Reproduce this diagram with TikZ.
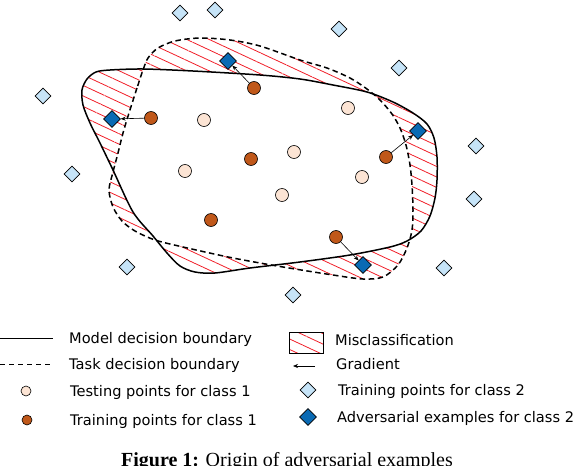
\documentclass[tikz,border=0pt]{standalone}
\usepackage{fontspec}
\setmainfont{DejaVu Sans}
\newfontfamily\capfont{Liberation Serif}
\usetikzlibrary{shapes.geometric,arrows.meta,patterns.meta}
\definecolor{colLight}{RGB}{198,228,248}
\definecolor{colDark}{RGB}{10,106,180}
\definecolor{colBrown}{RGB}{192,88,26}
\definecolor{colTest}{RGB}{252,228,212}
\definecolor{colHatch}{RGB}{240,30,40}
\begin{document}
\begin{tikzpicture}[x=1pt,y=-1pt,
  traindia/.style={diamond,draw=black,fill=colLight,line width=0.7pt,minimum size=16pt,inner sep=0pt},
  advdia/.style={diamond,draw=black,fill=colDark,line width=0.7pt,minimum size=17pt,inner sep=0pt},
  trainpt/.style={circle,draw=black,fill=colBrown,line width=0.6pt,minimum size=13pt,inner sep=0pt},
  testpt/.style={circle,draw=black,fill=colTest,line width=0.6pt,minimum size=13pt,inner sep=0pt},
  gradarrow/.style={-{Stealth[length=5pt,width=4pt]},line width=0.6pt},
  hatchfill/.style={pattern={Lines[angle=-25,distance=9.5pt,line width=0.8pt]},pattern color=colHatch},
  modelline/.style={line width=1.5pt},
  taskline/.style={line width=1.5pt,dash pattern=on 5.5pt off 3.5pt},
  legtext/.style={anchor=base west,font=\fontsize{14.6}{16}\selectfont,inner sep=0pt}]
\useasboundingbox (0,0) rectangle (576,466);
\clip (0,0) rectangle (576,466);
\def\modelpts{(96,72) (110,70) (143,69) (193,71) (260,75) (300,79) (333,85) (367,92) (393,102) (413,113) (427,124) (434,138) (437,157) (437,180) (435,198) (430,216) (421,231) (407,241) (390,247) (350,255) (300,262) (250,268) (215,273) (195,272) (180,266) (167,253) (153,236) (133,212) (113,170) (100,143) (90,123) (83,105) (82,90) (87,79)}
\def\taskpts{(143,70) (137,88) (129,113) (123,133) (118,153) (113,172) (109,190) (113,207) (122,221) (135,231) (155,240) (183,247) (233,258) (283,267) (333,275) (363,279) (383,277) (398,265) (407,248) (412,230) (413,210) (412,185) (410,165) (406,145) (400,128) (392,114) (380,100) (367,89) (350,78) (327,68) (300,60) (260,46) (230,40) (200,38) (175,41) (158,48) (148,58)}
% misclassification hatch
\path[hatchfill,even odd rule] plot[smooth cycle] coordinates {\modelpts} plot[smooth cycle] coordinates {\taskpts};
% boundaries
\draw[modelline] plot[smooth cycle] coordinates {\modelpts};
\draw[taskline] plot[smooth cycle] coordinates {\taskpts};
% training points class 2
\node[traindia] (d1) at (180,13) {};
\node[traindia] (d2) at (215,10) {};
\node[traindia] (d3) at (339,29) {};
\node[traindia] (d4) at (399,68) {};
\node[traindia] (d5) at (43,96) {};
\node[traindia] (d6) at (72,174) {};
\node[traindia] (d7) at (476,146) {};
\node[traindia] (d8) at (474,199) {};
\node[traindia] (d9) at (127,267) {};
\node[traindia] (d10) at (444,268) {};
\node[traindia] (d11) at (293,295) {};
% testing points class 1
\node[testpt] (s1) at (204,120) {};
\node[testpt] (s2) at (348,108) {};
\node[testpt] (s3) at (294,152) {};
\node[testpt] (s4) at (185,171) {};
\node[testpt] (s5) at (362,177) {};
\node[testpt] (s6) at (282,195) {};
% training points class 1
\node[trainpt] (t1) at (254,88) {};
\node[trainpt] (t2) at (151,118) {};
\node[trainpt] (t3) at (251,159) {};
\node[trainpt] (t4) at (386,157) {};
\node[trainpt] (t5) at (211,220) {};
\node[trainpt] (t6) at (336,237) {};
% adversarial examples
\node[advdia] (a1) at (228,61) {};
\node[advdia] (a2) at (112,119) {};
\node[advdia] (a3) at (418,131) {};
\node[advdia] (a4) at (363,265) {};
% gradients
\draw[gradarrow] (t1) -- (a1);
\draw[gradarrow] (t2) -- (a2);
\draw[gradarrow] (t4) -- (a3);
\draw[gradarrow] (t6) -- (a4);
% legend left
\coordinate (lm1) at (0,338);
\coordinate (lm2) at (53,338);
\draw[line width=0.8pt] (lm1) -- (lm2);
\node[legtext] (lmt) at (69,343) {Model decision boundary};
\coordinate (lt1) at (0,364);
\coordinate (lt2) at (53,364);
\draw[line width=0.8pt,dash pattern=on 5pt off 4pt] (lt1) -- (lt2);
\node[legtext] (ltt) at (69,369) {Task decision boundary};
\node[testpt,minimum size=10pt] (lsp) at (26,391) {};
\node[legtext] (lst) at (70,396) {Testing points for class 1};
\node[trainpt,minimum size=10pt] (ltp) at (27,420) {};
\node[legtext] (ltpt) at (70,425) {Training points for class 1};
% legend right
\node[draw=black,line width=0.7pt,hatchfill,minimum width=34pt,minimum height=21pt,inner sep=0pt] (lmis) at (306,342.5) {};
\node[legtext] (lmist) at (335,345) {Misclassification};
\coordinate (lg1) at (315,366);
\coordinate (lg2) at (293,366);
\draw[gradarrow] (lg1) -- (lg2);
\node[legtext] (lgt) at (336,369) {Gradient};
\node[traindia] (ldia) at (308,390) {};
\node[legtext] (ldiat) at (338,395) {Training points for class 2};
\node[advdia] (ladv) at (308,417) {};
\node[legtext] (ladvt) at (337,422) {Adversarial examples for class 2};
% caption (cut by the lower edge, as in the reference)
\node[anchor=base,inner sep=0pt,font=\capfont\fontsize{20}{24}\selectfont] (cap) at (287,466) {\textbf{Figure 1:} Origin of adversarial examples};
\end{tikzpicture}
\end{document}
